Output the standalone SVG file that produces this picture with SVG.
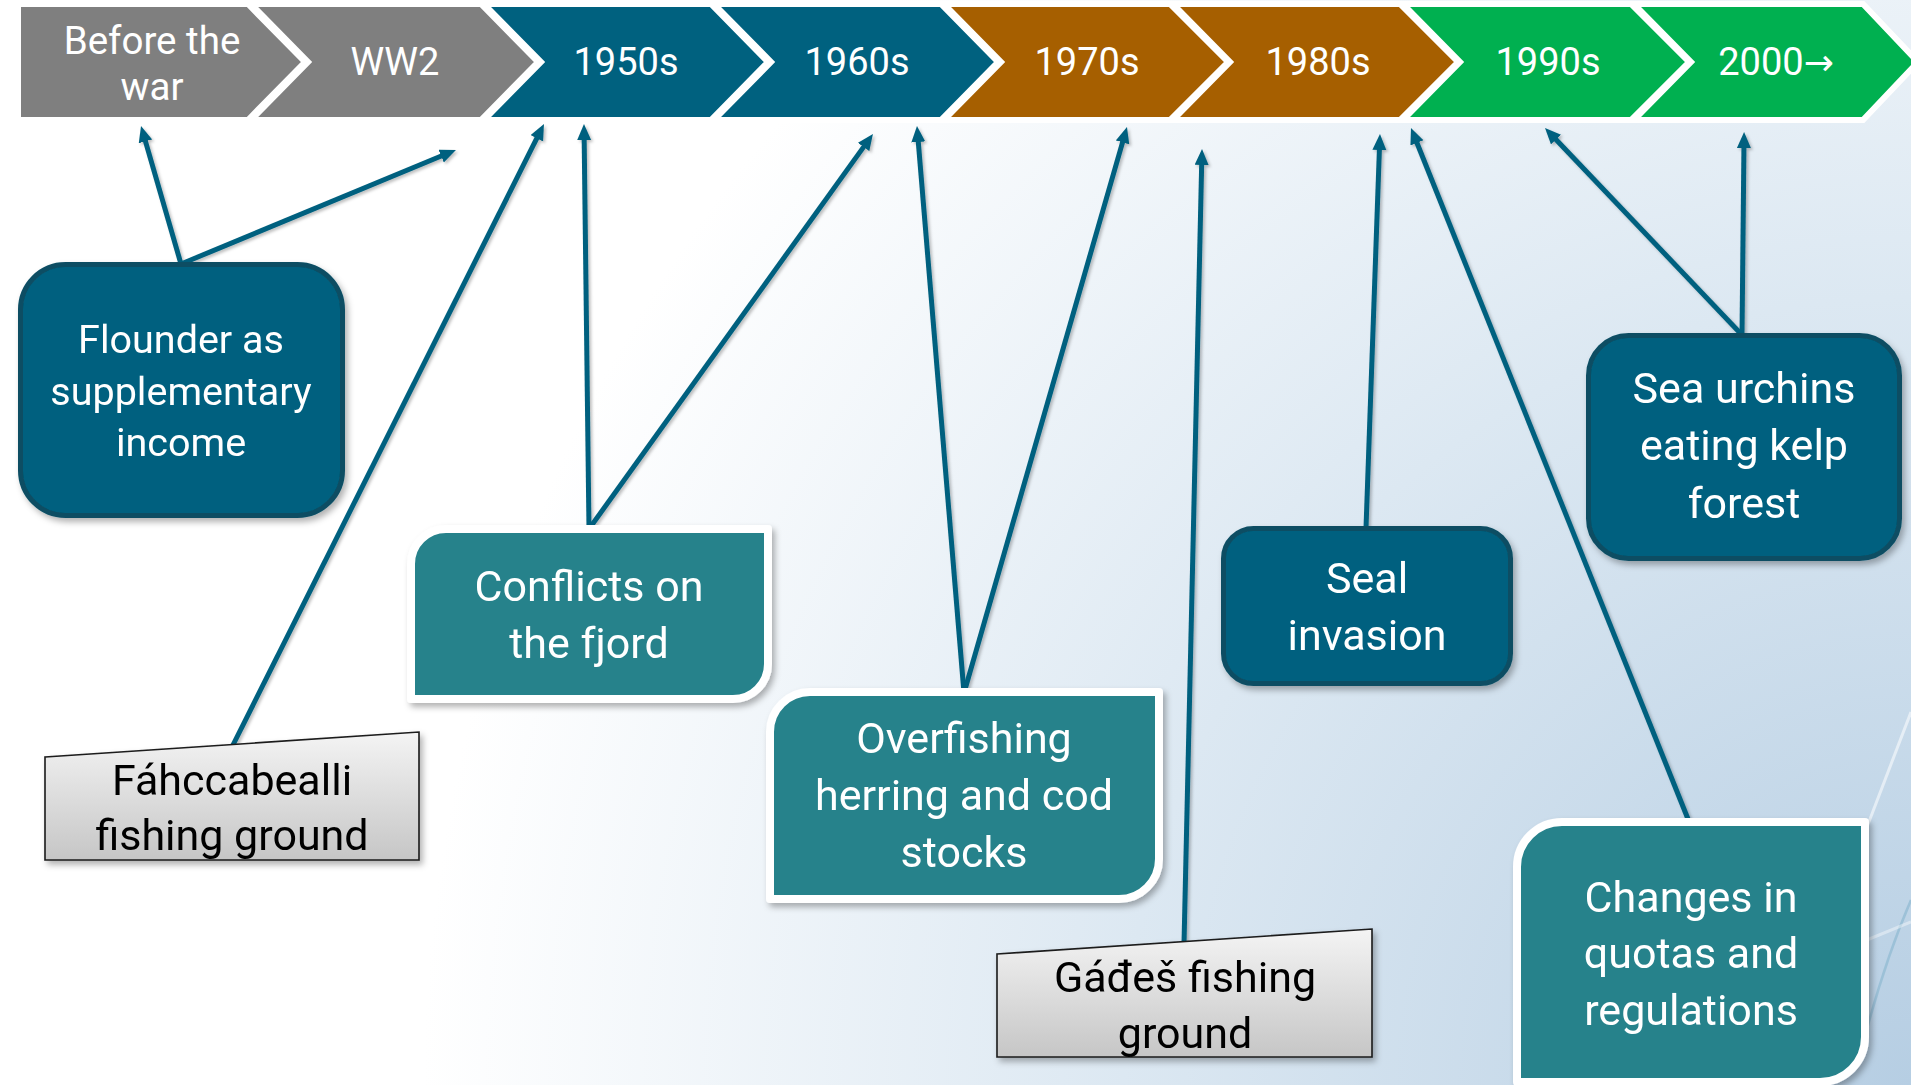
<svg xmlns="http://www.w3.org/2000/svg" width="1911" height="1085" viewBox="0 0 1911 1085">
  <defs>
    <radialGradient id="bg" gradientUnits="userSpaceOnUse" cx="1911" cy="1085" r="1750">
      <stop offset="0" stop-color="#b6cee3"/>
      <stop offset="0.45" stop-color="#dce8f2"/>
      <stop offset="0.85" stop-color="#ffffff"/>
    </radialGradient>
    <linearGradient id="grayfill" x1="0" y1="0" x2="0" y2="1">
      <stop offset="0" stop-color="#f4f4f4"/>
      <stop offset="1" stop-color="#c6c6c6"/>
    </linearGradient>
    <filter id="shadow" x="-10%" y="-10%" width="130%" height="130%">
      <feDropShadow dx="3" dy="4" stdDeviation="3" flood-color="#000" flood-opacity="0.3"/>
    </filter>
    <filter id="lshadow" x="-10%" y="-10%" width="130%" height="130%">
      <feDropShadow dx="2" dy="2" stdDeviation="1.5" flood-color="#000" flood-opacity="0.25"/>
    </filter>
    <marker id="arrow" markerUnits="userSpaceOnUse" markerWidth="17" markerHeight="15" refX="6" refY="7" orient="auto">
      <path d="M0,0 L16,7 L0,14 z" fill="#00617f"/>
    </marker>
    <style>
      .chev { stroke: #ffffff; stroke-width: 6; stroke-linejoin: miter; }
      .gray { fill: #7f7f7f; }
      .blue { fill: #00617f; }
      .brown { fill: #a65f00; }
      .green { fill: #00b050; }
      .ct { font-family: Roboto, "Liberation Sans", sans-serif; font-size: 38px; fill: #ffffff; text-anchor: middle; }
      .ct2 { font-size: 38.5px; }
      .dark { fill: #00617f; stroke: #0b4e64; stroke-width: 5; }
      .teal { fill: #27828b; stroke: #ffffff; stroke-width: 8; stroke-linejoin: round; }
      .grayb { fill: url(#grayfill); stroke: #1a1a1a; stroke-width: 1.6; }
      .wt { font-family: Roboto, "Liberation Sans", sans-serif; font-size: 43px; fill: #ffffff; text-anchor: middle; }
      .wt.small { font-size: 39.5px; }
      .bt { font-family: Roboto, "Liberation Sans", sans-serif; font-size: 43px; fill: #000000; text-anchor: middle; }
      .conn { fill: none; stroke: #00617f; stroke-width: 5; marker-end: url(#arrow); }
      .arr { font-family: "DejaVu Sans", sans-serif; font-size: 36px; }
    </style>
  </defs>

  <rect x="0" y="0" width="1911" height="1085" fill="url(#bg)"/>
  <g id="decor" fill="none">
    <line x1="1911" y1="712" x2="1862" y2="840" stroke="#ffffff" stroke-opacity="0.55" stroke-width="3"/>
    <path d="M1911,900 Q1885,960 1864,1040" stroke="#8fb9d2" stroke-opacity="0.7" stroke-width="2.5"/>
    <line x1="1862" y1="942" x2="1911" y2="922" stroke="#ffffff" stroke-opacity="0.4" stroke-width="3"/>
  </g>

  <g id="timeline">
    <g id="chev-before">
      <polygon class="chev gray" points="18,4 248,4 305,62 248,120 18,120"/>
      <text class="ct ct2"><tspan x="152" y="54">Before the</tspan><tspan x="152" y="100">war</tspan></text>
    </g>
    <g id="chev-ww2">
      <polygon class="chev gray" points="251,4 481,4 538,62 481,120 251,120 308,62"/>
      <text class="ct" x="395" y="75">WW2</text>
    </g>
    <g id="chev-1950s">
      <polygon class="chev blue" points="484,4 711,4 768,62 711,120 484,120 541,62"/>
      <text class="ct" x="626" y="75">1950s</text>
    </g>
    <g id="chev-1960s">
      <polygon class="chev blue" points="714,4 941,4 998,62 941,120 714,120 771,62"/>
      <text class="ct" x="857" y="75">1960s</text>
    </g>
    <g id="chev-1970s">
      <polygon class="chev brown" points="944,4 1170,4 1228,62 1170,120 944,120 1001,62"/>
      <text class="ct" x="1087" y="75">1970s</text>
    </g>
    <g id="chev-1980s">
      <polygon class="chev brown" points="1173,4 1400,4 1458,62 1400,120 1173,120 1230,62"/>
      <text class="ct" x="1318" y="75">1980s</text>
    </g>
    <g id="chev-1990s">
      <polygon class="chev green" points="1403,4 1631,4 1689,62 1631,120 1403,120 1460,62"/>
      <text class="ct" x="1548" y="75">1990s</text>
    </g>
    <g id="chev-2000">
      <polygon class="chev green" points="1634,4 1863,4 1918,62 1863,120 1634,120 1691,62"/>
      <text class="ct" x="1776" y="75">2000<tspan class="arr">→</tspan></text>
    </g>
  </g>

  <g id="connectors" filter="url(#lshadow)">
    <line class="conn" x1="181" y1="264" x2="143.8" y2="135.6"/>
    <line class="conn" x1="181" y1="264" x2="446.7" y2="153.8"/>
    <line class="conn" x1="233" y1="745" x2="539.5" y2="132.9"/>
    <line class="conn" x1="589" y1="529" x2="584.1" y2="134"/>
    <line class="conn" x1="589" y1="529" x2="867.1" y2="142.1"/>
    <line class="conn" x1="964" y1="693" x2="917.8" y2="136"/>
    <line class="conn" x1="964" y1="693" x2="1124.2" y2="136.6"/>
    <line class="conn" x1="1184" y1="944" x2="1201.8" y2="159"/>
    <line class="conn" x1="1366" y1="528" x2="1379.6" y2="144"/>
    <line class="conn" x1="1690" y1="824" x2="1414.7" y2="137.3"/>
    <line class="conn" x1="1742" y1="335" x2="1551.9" y2="135.2"/>
    <line class="conn" x1="1742" y1="335" x2="1744" y2="142"/>
  </g>

  <g id="node-flounder" filter="url(#shadow)">
    <rect class="dark" x="20.5" y="264.5" width="322" height="251" rx="45"/>
    <text class="wt small" x="181" y="353">Flounder as</text>
    <text class="wt small" x="181" y="405">supplementary</text>
    <text class="wt small" x="181" y="456">income</text>
  </g>

  <g id="node-conflicts" filter="url(#shadow)">
    <path class="teal" d="M446,529 H768 V664 A35,35 0 0 1 733,699 H411 V564 A35,35 0 0 1 446,529 Z"/>
    <text class="wt" x="589" y="601">Conflicts on</text>
    <text class="wt" x="589" y="658">the fjord</text>
  </g>

  <g id="node-fahccabealli" filter="url(#shadow)">
    <polygon class="grayb" points="45,757 419,732 419,860 45,860"/>
    <text class="bt" x="232" y="795">Fáhccabealli</text>
    <text class="bt" x="232" y="850">fishing ground</text>
  </g>

  <g id="node-overfishing" filter="url(#shadow)">
    <path class="teal" d="M810,692 H1159 V859 A40,40 0 0 1 1119,899 H770 V732 A40,40 0 0 1 810,692 Z"/>
    <text class="wt" x="964" y="753">Overfishing</text>
    <text class="wt" x="964" y="810">herring and cod</text>
    <text class="wt" x="964" y="867">stocks</text>
  </g>

  <g id="node-gades" filter="url(#shadow)">
    <polygon class="grayb" points="997,954 1372,929 1372,1057 997,1057"/>
    <text class="bt" x="1185" y="992">Gáđeš fishing</text>
    <text class="bt" x="1185" y="1048">ground</text>
  </g>

  <g id="node-seal" filter="url(#shadow)">
    <rect class="dark" x="1223.5" y="528.5" width="287" height="155" rx="30"/>
    <text class="wt" x="1367" y="593">Seal</text>
    <text class="wt" x="1367" y="650">invasion</text>
  </g>

  <g id="node-urchins" filter="url(#shadow)">
    <rect class="dark" x="1588.5" y="335.5" width="311" height="223" rx="40"/>
    <text class="wt" x="1744" y="403">Sea urchins</text>
    <text class="wt" x="1744" y="460">eating kelp</text>
    <text class="wt" x="1744" y="518">forest</text>
  </g>

  <g id="node-changes" filter="url(#shadow)">
    <path class="teal" d="M1562,822 H1865 V1037 A45,45 0 0 1 1820,1082 H1517 V867 A45,45 0 0 1 1562,822 Z"/>
    <text class="wt" x="1691" y="912">Changes in</text>
    <text class="wt" x="1691" y="968">quotas and</text>
    <text class="wt" x="1691" y="1025">regulations</text>
  </g>
</svg>
